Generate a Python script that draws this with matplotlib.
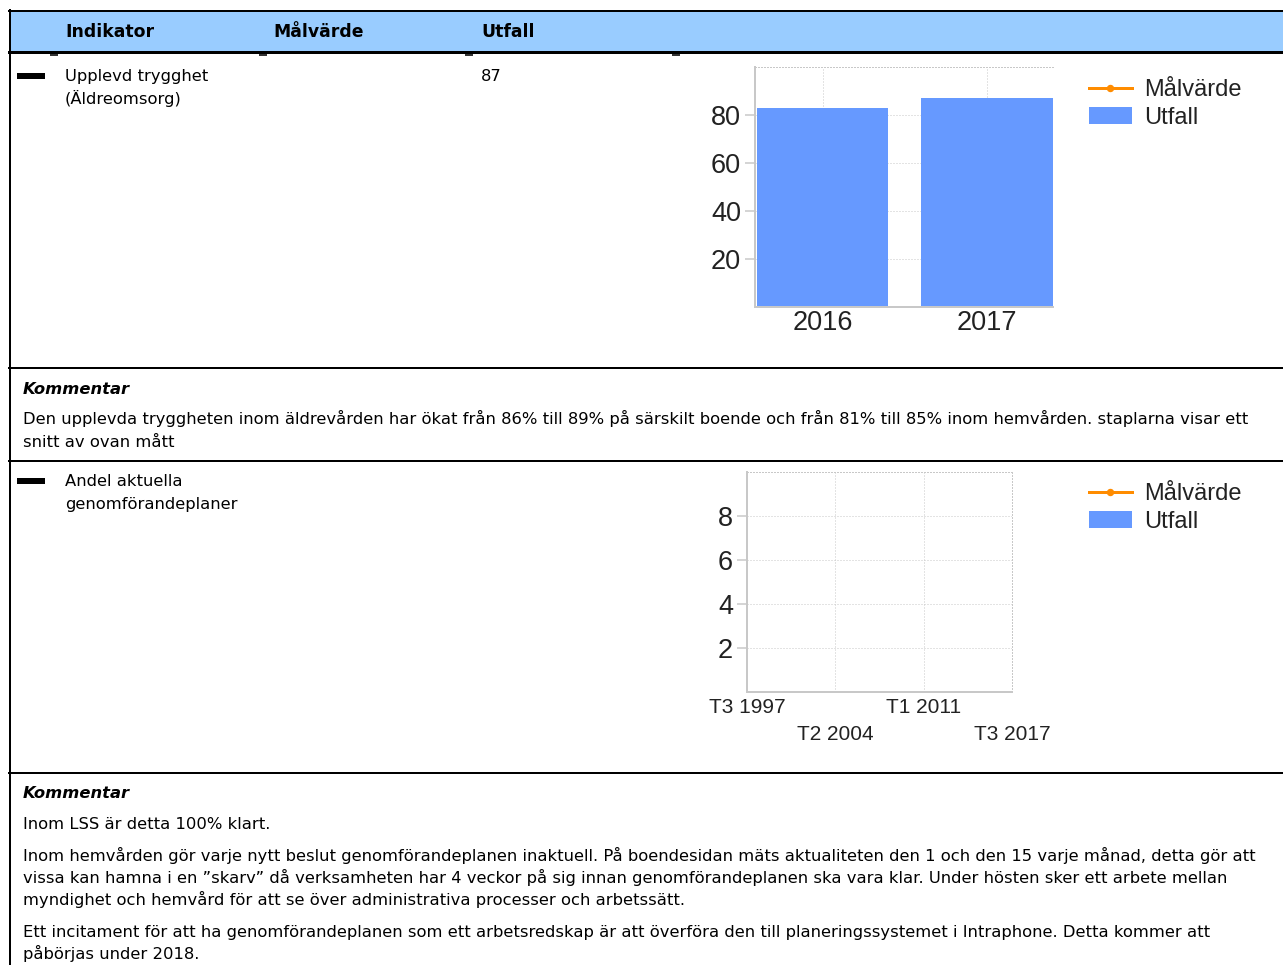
import matplotlib
matplotlib.use('Agg')
import matplotlib.pyplot as plt
from matplotlib.patches import Rectangle, Patch
from matplotlib.lines import Line2D

W, H = 1283, 965
PX = 0.72  # points per pixel at dpi 100

# --- data -------------------------------------------------------------
headers = ['Indikator', 'Målvärde', 'Utfall']
header_x = [65, 273, 481]

ind1_name = ['Upplevd trygghet', '(Äldreomsorg)']
ind1_outcome = '87'
years1 = ['2016', '2017']
utfall1 = [83, 87]
malvarde1 = [None, None]
yticks1 = [20, 40, 60, 80]

ind2_name = ['Andel aktuella', 'genomförandeplaner']
periods2 = ['T3 1997', 'T2 2004', 'T1 2011', 'T3 2017']
utfall2 = [None, None, None, None]
malvarde2 = [None, None, None, None]
yticks2 = [2, 4, 6, 8]

comment1 = [
    'Den upplevda tryggheten inom äldrevården har ökat från 86% till 89% på särskilt boende och från 81% till 85% inom hemvården. staplarna visar ett',
    'snitt av ovan mått',
]
comment2 = [
    ['Inom LSS är detta 100% klart.'],
    ['Inom hemvården gör varje nytt beslut genomförandeplanen inaktuell. På boendesidan mäts aktualiteten den 1 och den 15 varje månad, detta gör att',
     'vissa kan hamna i en ”skarv” då verksamheten har 4 veckor på sig innan genomförandeplanen ska vara klar. Under hösten sker ett arbete mellan',
     'myndighet och hemvård för att se över administrativa processer och arbetssätt.'],
    ['Ett incitament för att ha genomförandeplanen som ett arbetsredskap är att överföra den till planeringssystemet i Intraphone. Detta kommer att',
     'påbörjas under 2018.'],
]

BAR_C = '#6699FF'
LINE_C = '#FF8C00'
GRID_C = '#C8C8C8'
TXT_C = '#222222'
CHART_FONT = ['Liberation Sans', 'DejaVu Sans']
BODY = 11.8
BL = 6  # baseline offset from the visual centre of a line, px

plt.rcParams['font.family'] = ['DejaVu Sans']

fig = plt.figure(figsize=(W / 100, H / 100), dpi=100)
bg = fig.add_axes([0, 0, 1, 1])
bg.set_xlim(0, W)
bg.set_ylim(H, 0)
bg.axis('off')


def line_text(x, y, s, **kw):
    bg.text(x, y + BL, s, fontsize=kw.pop('fontsize', BODY), va='baseline', **kw)


# --- table frame -------------------------------------------------------
bg.add_patch(Rectangle((9, 10), W - 9, 41, fc='#99CCFF', ec='none'))
bg.plot([9, W], [10.5, 10.5], color='k', lw=2 * PX)
bg.plot([9, W], [51.5, 51.5], color='k', lw=3 * PX)
for x in [54, 263, 469, 676]:
    bg.plot([x - 3, x + 3], [54.5, 54.5], color='#333333', lw=2 * PX)
bg.plot([9.5, 9.5], [10, H], color='k', lw=2 * PX)
for y in [367.5, 460.5, 772.5]:
    bg.plot([9, W], [y, y], color='k', lw=2 * PX)

for x, h in zip(header_x, headers):
    line_text(x, 31, h, fontsize=12.4, fontweight='bold')

# row 1
bg.add_patch(Rectangle((17, 73), 28, 6, fc='k', ec='none'))
line_text(65, 75, ind1_name[0])
line_text(65, 98, ind1_name[1])
line_text(481, 75, ind1_outcome)

line_text(23, 388, 'Kommentar', fontweight='bold', fontstyle='italic')
for i, line in enumerate(comment1):
    line_text(23, 418 + 23 * i, line)

# row 2
bg.add_patch(Rectangle((17, 478), 28, 6, fc='k', ec='none'))
line_text(65, 480, ind2_name[0])
line_text(65, 503, ind2_name[1])

line_text(23, 792, 'Kommentar', fontweight='bold', fontstyle='italic')
y = 823
for para in comment2:
    for line in para:
        line_text(23, y, line)
        y += 22
    y += 10


def fig_rect(x0, y0, x1, y1):
    return [x0 / W, 1 - y1 / H, (x1 - x0) / W, (y1 - y0) / H]


def style_axes(ax, right_dotted):
    for side in ['left', 'bottom']:
        ax.spines[side].set_color(GRID_C)
        ax.spines[side].set_linewidth(2 * PX)
    ax.spines['top'].set_color(GRID_C)
    ax.spines['top'].set_linestyle((0, (1, 2)))
    ax.spines['top'].set_linewidth(1 * PX)
    if right_dotted:
        ax.spines['right'].set_color(GRID_C)
        ax.spines['right'].set_linestyle((0, (1, 2)))
        ax.spines['right'].set_linewidth(1 * PX)
    else:
        ax.spines['right'].set_visible(False)
    ax.grid(True, color=GRID_C, linestyle=(0, (1, 2)), linewidth=1 * PX)
    ax.set_axisbelow(True)
    ax.tick_params(axis='y', length=7, width=1.5 * PX, color=GRID_C, pad=3)
    ax.tick_params(axis='x', length=0)


def add_legend(ax, y_top):
    handles = [Line2D([0], [0], color=LINE_C, lw=3 * PX, marker='o', markersize=6 * PX),
               Patch(fc=BAR_C, ec='none')]
    ax.legend(handles, ['Målvärde', 'Utfall'], loc='upper left',
              bbox_to_anchor=(1089, y_top), bbox_transform=bg.transData,
              frameon=False, prop={'family': CHART_FONT, 'size': 17},
              handlelength=1.8, handleheight=0.7, handletextpad=0.55,
              labelspacing=0.25, borderpad=0, borderaxespad=0,
              labelcolor=TXT_C)


# --- chart 1 -------------------------------------------------------------
ax1 = fig.add_axes(fig_rect(755, 67, 1053, 307))
x1 = range(len(years1))
ax1.bar(x1, utfall1, width=0.8, color=BAR_C, zorder=2)
ax1.plot(x1, [float('nan') if v is None else v for v in malvarde1], color=LINE_C, marker='o', zorder=3)
ax1.set_xlim(-0.41, 1.4)
ax1.set_ylim(0, 100)
ax1.set_xticks(list(x1))
ax1.set_xticklabels(years1, family=CHART_FONT, fontsize=19.5, color=TXT_C)
ax1.set_yticks(yticks1)
ax1.set_yticklabels([str(v) for v in yticks1], family=CHART_FONT, fontsize=19.5, color=TXT_C)
style_axes(ax1, right_dotted=False)
ax1.tick_params(axis='x', pad=2)
add_legend(ax1, 79)

# --- chart 2 -------------------------------------------------------------
ax2 = fig.add_axes(fig_rect(747, 472, 1012, 692))
x2 = range(len(periods2))
ax2.bar(x2, [float('nan') if v is None else v for v in utfall2], width=0.8, color=BAR_C, zorder=2)
ax2.plot(x2, [float('nan') if v is None else v for v in malvarde2], color=LINE_C, marker='o', zorder=3)
ax2.set_xlim(0, len(periods2) - 1)
ax2.set_ylim(0, 10)
ax2.set_xticks(list(x2))
stagger = [p if i % 2 == 0 else '\n' + p for i, p in enumerate(periods2)]
ax2.set_xticklabels(stagger, family=CHART_FONT, fontsize=15, color=TXT_C, linespacing=1.58)
ax2.set_yticks(yticks2)
ax2.set_yticklabels([str(v) for v in yticks2], family=CHART_FONT, fontsize=19.5, color=TXT_C)
style_axes(ax2, right_dotted=True)
ax2.tick_params(axis='x', pad=4)
add_legend(ax2, 483)

fig.savefig('out.png', dpi=100)
